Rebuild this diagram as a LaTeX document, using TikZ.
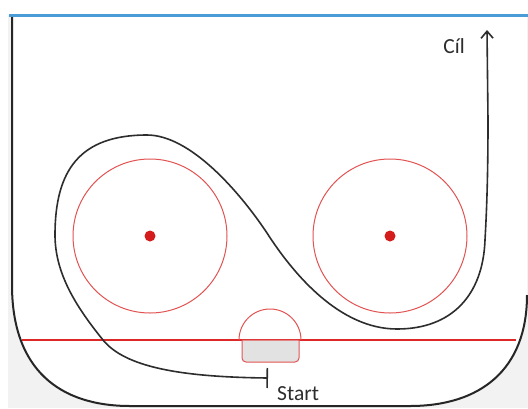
\documentclass[tikz,border=0pt]{standalone}
\usepackage{fontspec}
\setmainfont{Carlito}
\usetikzlibrary{arrows.meta}
\definecolor{outgrey}{RGB}{241,242,241}
\definecolor{padgrey}{RGB}{226,226,226}
\definecolor{topblue}{RGB}{74,156,214}
\definecolor{linered}{RGB}{222,40,40}
\definecolor{ringred}{RGB}{226,84,84}
\definecolor{dotred}{RGB}{212,28,28}
\definecolor{inkgrey}{RGB}{45,45,45}

\begin{document}
\begin{tikzpicture}[x=1pt, y=-1pt,
		boundary/.style={draw=black!85, line width=2pt},
		ring/.style={circle, draw=ringred, line width=1pt, minimum size=154pt, inner sep=0pt},
		route/.style={draw=inkgrey, line width=1.6pt},
		caption/.style={text=inkgrey, inner sep=0pt, font=\fontsize{21.5}{24}\selectfont}]
		\useasboundingbox (0,0) rectangle (528,408);
		\fill[outgrey] (8,15) rectangle (528,408);
		\fill[white] (12,15) -- (12,285) .. controls (12,370) and (60,406) .. (130,406)
			-- (410,406) .. controls (480,406) and (527,370) .. (527,295) -- (527,15) -- cycle;
		\draw[boundary] (12,15) -- (12,285) .. controls (12,370) and (60,406) .. (130,406)
			-- (410,406) .. controls (480,406) and (527,370) .. (527,295);
		\draw[draw=linered, line width=1.2pt] (22,340) -- (516,340);
		% starting box
		\draw[draw=ringred, line width=1pt] (239,340) arc[start angle=180, end angle=0, radius=31pt];
		\filldraw[fill=padgrey, draw=ringred, line width=1pt] (242,340) -- (242,358)
			arc[start angle=180, end angle=270, radius=4pt] -- (295,362)
			arc[start angle=270, end angle=360, radius=4pt] -- (299,340) -- cycle;
		% posts
		\node[ring] (left post) at (150,236) {};
		\node[ring] (right post) at (390,236) {};
		\fill[dotred] (left post.center) circle (5.5);
		\fill[dotred] (right post.center) circle (5.5);
		\coordinate (start) at (268,378);
		\coordinate (goal) at (487,30);
		\draw[route, {Bar[width=20pt]}-{Straight Barb[length=7pt, width=12pt]}]
			(start) .. controls (180,377) and (125,367) .. (103,340)
			.. controls (78,309) and (55,275) .. (55,235)
			.. controls (55,170) and (80,135) .. (147,135)
			.. controls (190,135) and (239,191) .. (267,233)
			.. controls (294,275) and (340,329) .. (397,329)
			.. controls (452,329) and (483,295) .. (485,240)
			.. controls (487,205) and (488,170) .. (488,120) -- (goal);
		\node[caption, anchor=base east] (goal label) at (465,53) {Cíl};
		\node[caption, anchor=base west] (start label) at (277,400) {Start};
		\draw[draw=topblue, line width=3pt] (9,15) -- (528,15);
	\end{tikzpicture}
\end{document}
